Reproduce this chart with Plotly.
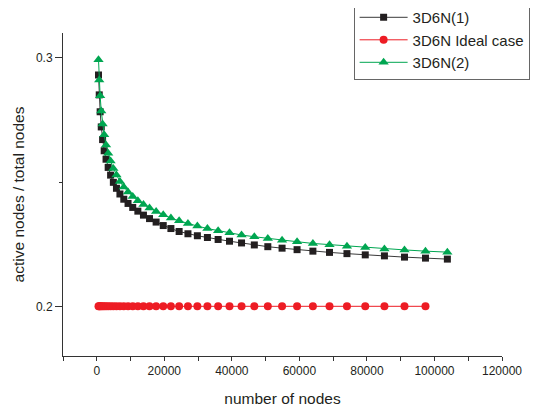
import plotly.graph_objects as go

# number of nodes (x) for each series
nodes_1 = [512, 729, 1000, 1331, 1728, 2197, 2744, 3375, 4096, 4913, 5832, 6859, 8000,
           9261, 10648, 12167, 13824, 15625, 17576, 19683, 21952, 24389, 27000, 29791,
           32768, 35937, 39304, 42875, 46656, 50653, 54872, 59319, 64000, 68921, 74088,
           79507, 85184, 91125, 97336, 103823]
nodes_ideal = nodes_1[:-1]
nodes_2 = nodes_1

ratio_1 = [0.2931, 0.2851, 0.2783, 0.2722, 0.2671, 0.2626, 0.2592, 0.2559, 0.2528, 0.2499,
           0.2475, 0.2452, 0.2431, 0.2414, 0.2398, 0.2383, 0.2367, 0.2353, 0.2339, 0.2325,
           0.2313, 0.2301, 0.2292, 0.2284, 0.2277, 0.2269, 0.2262, 0.2255, 0.2247, 0.2240,
           0.2234, 0.2228, 0.2222, 0.2217, 0.2212, 0.2207, 0.2203, 0.2198, 0.2194, 0.2190]
ratio_ideal = [0.2] * len(nodes_ideal)
ratio_2 = [0.2992, 0.2911, 0.2847, 0.2786, 0.2734, 0.2690, 0.2649, 0.2616, 0.2585, 0.2555,
           0.2528, 0.2502, 0.2480, 0.2460, 0.2442, 0.2425, 0.2410, 0.2396, 0.2382, 0.2368,
           0.2355, 0.2344, 0.2333, 0.2323, 0.2313, 0.2304, 0.2296, 0.2287, 0.2280, 0.2273,
           0.2266, 0.2260, 0.2253, 0.2248, 0.2242, 0.2237, 0.2231, 0.2227, 0.2222, 0.2218]

x_tickvals = [-10000, 0, 10000, 20000, 30000, 40000, 50000, 60000, 70000, 80000, 90000,
              100000, 110000, 120000]
x_ticktext = ["", "0", "", "20000", "", "40000", "", "60000", "", "80000", "", "100000",
              "", "120000"]

fig = go.Figure()
fig.add_trace(go.Scatter(
    x=nodes_1, y=ratio_1, name="3D6N(1)", mode="lines+markers",
    line=dict(color="#3a3a3a", width=1),
    marker=dict(symbol="square", size=7, color="#231f20")))
fig.add_trace(go.Scatter(
    x=nodes_ideal, y=ratio_ideal, name="3D6N Ideal case", mode="lines+markers",
    line=dict(color="#ed1c24", width=1),
    marker=dict(symbol="circle", size=8, color="#ed1c24")))
fig.add_trace(go.Scatter(
    x=nodes_2, y=ratio_2, name="3D6N(2)", mode="lines+markers",
    line=dict(color="#00a651", width=1),
    marker=dict(symbol="triangle-up", size=9, color="#00a651")))

font_family = "Liberation Sans, Arial, sans-serif"
fig.update_layout(
    width=542, height=412,
    margin=dict(l=55, r=48, t=25, b=64, autoexpand=False),
    plot_bgcolor="white", paper_bgcolor="white",
    font=dict(family=font_family, size=12, color="#231f20"),
    showlegend=True,
    legend=dict(x=0.662, y=1.102, xanchor="left", yanchor="top",
                bordercolor="#666666", borderwidth=1, bgcolor="white",
                font=dict(size=15, family=font_family, color="#231f20"),
                tracegroupgap=0, itemwidth=48),
    xaxis=dict(range=[-10000, 120000], tickmode="array", tickvals=x_tickvals,
               ticktext=x_ticktext, ticks="outside", ticklen=4, tickcolor="#333",
               showline=True, linecolor="#333", linewidth=1, showgrid=False,
               zeroline=False, tickfont=dict(size=12),
               title=dict(text="number of nodes", font=dict(size=15.5), standoff=15)),
    yaxis=dict(range=[0.18, 0.31], tickmode="linear", tick0=0, dtick=0.1,
               tickformat=".1f", ticks="outside", ticklen=7, tickcolor="#333",
               minor=dict(dtick=0.05, tick0=0, ticks="outside", ticklen=3, tickcolor="#333"),
               showline=True, linecolor="#333", linewidth=1, showgrid=False,
               zeroline=False, tickfont=dict(size=12),
               title=dict(text="active nodes / total nodes", font=dict(size=15.5), standoff=7)),
)

fig.write_html("out.html")
